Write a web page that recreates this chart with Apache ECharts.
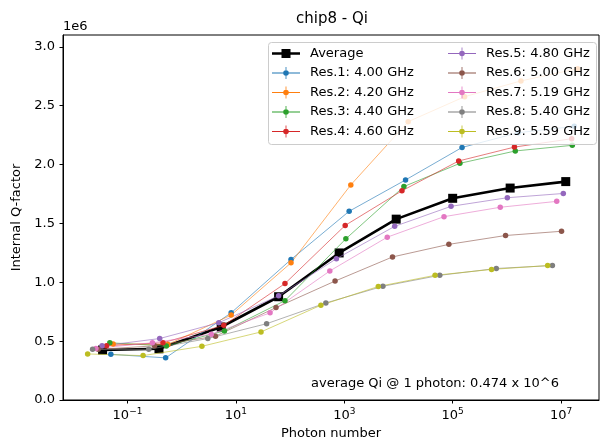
<!DOCTYPE html>
<html>
<head>
<meta charset="utf-8">
<script src="https://cdn.jsdelivr.net/npm/echarts@6/dist/echarts.min.js"></script>
<style>html,body{margin:0;padding:0;background:#fff;}#c{width:600px;height:445px;}</style>
</head>
<body>
<div id="c"></div>
<script>
// ---- data (photon number, Qi in units of 1e6) ----
const seriesNames = ['Average','Res.1: 4.00 GHz','Res.2: 4.20 GHz','Res.3: 4.40 GHz','Res.4: 4.60 GHz',
  'Res.5: 4.80 GHz','Res.6: 5.00 GHz','Res.7: 5.19 GHz','Res.8: 5.40 GHz','Res.9: 5.59 GHz'];
const avgX = [3.47e-2, 3.81e-1, 5.36, 61.4, 804, 9.08e3, 1.0e5, 1.15e6, 1.22e7];
const avgQ = [0.425, 0.435, 0.62, 0.877, 1.249, 1.536, 1.713, 1.80, 1.855];
const res1X = [4.93e-2, 5.06e-1, 8.18, 104, 1.23e3, 1.35e4, 1.49e5, 1.62e6, 1.75e7];
const res1Q = [0.388, 0.358, 0.74, 1.193, 1.603, 1.869, 2.145, 2.27, 2.324];
const res2X = [5.43e-2, 5.58e-1, 8.18, 104, 1.32e3, 1.51e4, 1.66e5, 1.82e6, 2.02e7];
const res2Q = [0.475, 0.472, 0.721, 1.165, 1.827, 2.364, 2.576, 2.71, 2.814];
const res3X = [4.72e-2, 5.21e-1, 6.15, 80.5, 1.07e3, 1.26e4, 1.36e5, 1.43e6, 1.61e7];
const res3Q = [0.486, 0.459, 0.587, 0.844, 1.369, 1.813, 2.01, 2.115, 2.163];
const res4X = [4.11e-2, 4.52e-1, 5.98, 80.5, 1.04e3, 1.16e4, 1.29e5, 1.38e6, 1.57e7];
const res4Q = [0.461, 0.486, 0.634, 0.989, 1.483, 1.777, 2.03, 2.148, 2.219];
const res5X = [3.39e-2, 3.93e-1, 4.84, 61.4, 716, 8.51e3, 9.33e4, 1.02e6, 1.10e7];
const res5Q = [0.46, 0.522, 0.656, 0.885, 1.20, 1.475, 1.645, 1.718, 1.754];
const res6X = [2.88e-2, 3.16e-1, 4.21, 55.0, 676, 7.76e3, 8.51e4, 9.46e5, 1.02e7];
const res6Q = [0.43, 0.46, 0.542, 0.785, 1.01, 1.215, 1.322, 1.397, 1.433];
const res7X = [2.61e-2, 2.88e-1, 3.51, 42.7, 541, 6.21e3, 6.92e4, 7.55e5, 8.32e6];
const res7Q = [0.438, 0.486, 0.559, 0.74, 1.096, 1.383, 1.557, 1.637, 1.687];
const res8X = [2.27e-2, 2.47e-1, 3.03, 36.9, 457, 5.16e3, 5.78e4, 6.38e5, 6.92e6];
const res8Q = [0.43, 0.43, 0.522, 0.648, 0.824, 0.966, 1.059, 1.117, 1.142];
const res9X = [1.84e-2, 1.94e-1, 2.36, 29.1, 370, 4.24e3, 4.73e4, 5.22e5, 5.66e6];
const res9Q = [0.391, 0.377, 0.456, 0.578, 0.805, 0.964, 1.059, 1.109, 1.142];
const xTickExponents = [-1, 1, 3, 5, 7];
const yTicks = [0, 0.5, 1.0, 1.5, 2.0, 2.5, 3.0];

// ---- styling ----
const colors = ['#000000','#1f77b4','#ff7f0e','#2ca02c','#d62728','#9467bd','#8c564b','#e377c2','#7f7f7f','#bcbd22'];
const X_LOG_MIN = -2.19, X_LOG_MAX = 7.7;
const FONT = 'DejaVu Sans';
// legend icons (28 x 12 box): errorbar style line + marker, and thick line + square
const ICON_RES = 'path://M0,5.6h28v0.8h-28z M13.6,0h0.8v12h-0.8z M11.2,6a2.8,2.8 0 1,1 5.6,0a2.8,2.8 0 1,1 -5.6,0z';
const ICON_AVG = 'path://M0,4.7h28v2.6h-28z M9.5,1.5h9v9h-9z';

const allX = [avgX, res1X, res2X, res3X, res4X, res5X, res6X, res7X, res8X, res9X];
const allQ = [avgQ, res1Q, res2Q, res3Q, res4Q, res5Q, res6Q, res7Q, res8Q, res9Q];

const series = seriesNames.map((name, i) => {
  const data = allX[i].map((x, j) => [x, allQ[i][j]]);
  if (i === 0) {
    return {
      name, type: 'line', data, xAxisIndex: 0, yAxisIndex: 0,
      symbol: 'rect', symbolSize: 9,
      lineStyle: { color: '#000', width: 2.6 },
      itemStyle: { color: '#000' },
      animation: false, z: 2
    };
  }
  return {
    name, type: 'line', data, xAxisIndex: 0, yAxisIndex: 0,
    symbol: 'circle', symbolSize: 5.5,
    lineStyle: { color: colors[i], width: 1, opacity: 0.6 },
    itemStyle: { color: colors[i] },
    animation: false, z: 3
  };
});

const legendItems = seriesNames.map((name, i) => ({
  name, icon: i === 0 ? ICON_AVG : ICON_RES,
  itemStyle: { color: colors[i], borderWidth: 0, borderColor: 'rgba(0,0,0,0)', opacity: 1 }
}));
const chart = echarts.init(document.getElementById('c'), null, { renderer: 'canvas' });
const legendCommon = {
  orient: 'vertical', top: 47, padding: 0, itemWidth: 28, itemHeight: 12, itemGap: 6.5,
  z: 20, selectedMode: false,
  textStyle: { fontFamily: FONT, fontSize: 13, lineHeight: 13, color: '#000', padding: [0, 0, 0, 5] }
};
chart.setOption({
  animation: false,
  backgroundColor: '#fff',
  grid: { left: 63, right: 1, top: 35, bottom: 41, show: true, borderColor: '#000', borderWidth: 1, containLabel: false },
  xAxis: [
    {
      type: 'log', logBase: 10, min: Math.pow(10, X_LOG_MIN), max: Math.pow(10, X_LOG_MAX),
      name: 'Photon number', nameLocation: 'middle', nameGap: 27,
      nameTextStyle: { fontFamily: FONT, fontSize: 13, color: '#000' },
      axisLine: { show: true, onZero: false, lineStyle: { color: '#000', width: 1 } },
      axisTick: { show: false }, axisLabel: { show: false }, splitLine: { show: false }
    },
    {
      type: 'value', min: X_LOG_MIN, max: X_LOG_MAX, position: 'bottom',
      axisLine: { show: false, onZero: false }, splitLine: { show: false },
      axisTick: { show: true, inside: false, length: 3.5, lineStyle: { color: '#000', width: 1 }, customValues: xTickExponents },
      axisLabel: {
        customValues: xTickExponents, margin: 7,
        formatter: v => '{b|10}{s|' + (v < 0 ? '\u2212' : '') + Math.abs(v) + '}',
        rich: {
          b: { fontFamily: FONT, fontSize: 13, color: '#000' },
          s: { fontFamily: FONT, fontSize: 9, color: '#000', padding: [0, 0, 9, 0] }
        }
      }
    }
  ],
  yAxis: {
    type: 'value', min: 0, max: 3.1,
    name: 'Internal Q-factor', nameLocation: 'middle', nameGap: 36,
    nameTextStyle: { fontFamily: FONT, fontSize: 13, color: '#000' },
    axisLine: { show: true, onZero: false, lineStyle: { color: '#000', width: 1 } },
    axisTick: { show: true, length: 3.5, lineStyle: { color: '#000' }, customValues: yTicks },
    axisLabel: { customValues: yTicks, margin: 8, fontFamily: FONT, fontSize: 13, color: '#000', formatter: v => v.toFixed(1) },
    splitLine: { show: false }
  },
  legend: [
    Object.assign({}, legendCommon, { left: 272, data: legendItems.slice(0, 5) }),
    Object.assign({}, legendCommon, { left: 448, data: legendItems.slice(5) })
  ],
  graphic: [
    { type: 'rect', z: 10, shape: { x: 268.5, y: 42.5, width: 328, height: 102, r: 3 },
      style: { fill: 'rgba(255,255,255,0.8)', stroke: '#cccccc', lineWidth: 1 } },
    { type: 'text', z: 30, x: 332, y: 19, style: { text: 'chip8 - Qi', font: '15px "DejaVu Sans"', fill: '#000', align: 'center', verticalAlign: 'middle' } },
    { type: 'text', z: 30, x: 63, y: 27, style: { text: '1e6', font: '13px "DejaVu Sans"', fill: '#000', align: 'left', verticalAlign: 'middle' } },
    { type: 'text', z: 30, x: 311, y: 384, style: { text: 'average Qi @ 1 photon: 0.474 x 10^6', font: '13px "DejaVu Sans"', fill: '#000', align: 'left', verticalAlign: 'middle' } }
  ],
  series
});
</script>
</body>
</html>
